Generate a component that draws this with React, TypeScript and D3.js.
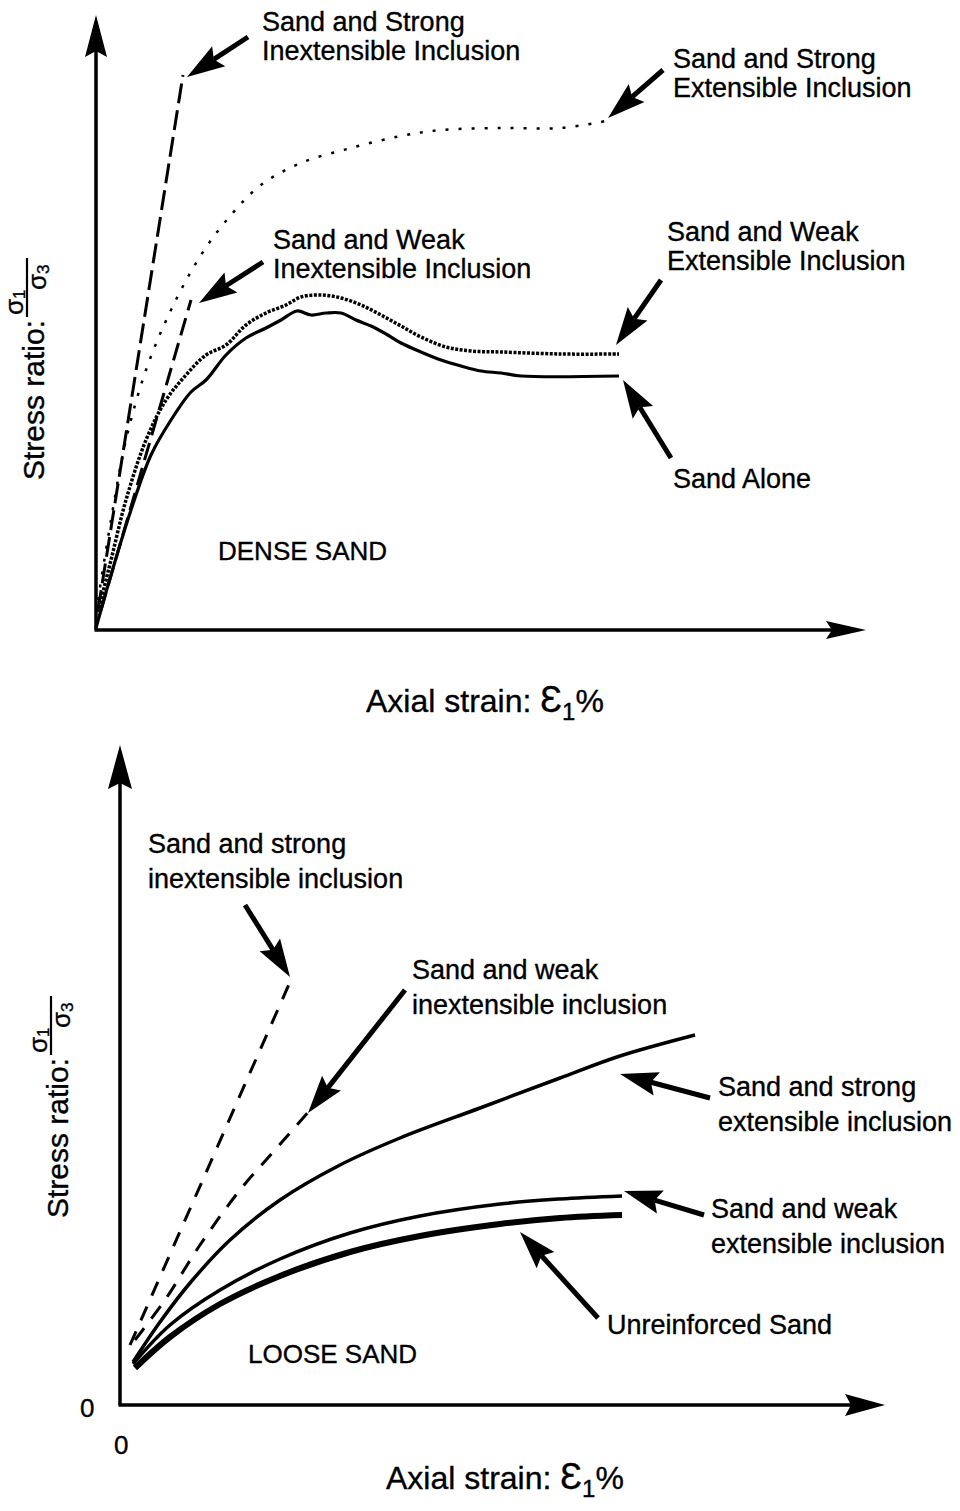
import React from 'react';
import * as d3 from 'd3';

type Pt = [number, number];

// ---------- DENSE SAND (top panel) : axial strain vs stress ratio, arbitrary units ----------
const denseStrongInextensible: Pt[] = [[0.02, 0.2], [0.87, 5.55]];
const denseWeakInextensible: Pt[] = [[0.05, 0.2], [0.95, 3.3]];
const denseStrongExtensible: Pt[] = [
  [0.02, 0.3], [0.15, 1.1], [0.3, 1.9], [0.5, 2.6], [0.75, 3.2], [1.05, 3.75], [1.35, 4.15],
  [1.65, 4.45], [2.05, 4.67], [2.55, 4.82], [3.05, 4.94], [3.45, 5.0], [4.05, 5.02], [4.65, 5.02], [5.1, 5.09],
];
const denseWeakExtensible: Pt[] = [
  [0.02, 0.18], [0.15, 0.7], [0.3, 1.3], [0.5, 1.9], [0.7, 2.3], [0.9, 2.55], [1.1, 2.75], [1.3, 2.85],
  [1.5, 3.05], [1.7, 3.17], [1.9, 3.25], [2.05, 3.33], [2.25, 3.35], [2.45, 3.32], [2.65, 3.25], [2.85, 3.15],
  [3.05, 3.04], [3.25, 2.93], [3.5, 2.83], [3.75, 2.79], [4.05, 2.78], [4.65, 2.76], [5.23, 2.76],
];
const denseSandAlone: Pt[] = [
  [0.0, 0.02], [0.15, 0.55], [0.35, 1.2], [0.55, 1.75], [0.75, 2.1], [0.95, 2.38], [1.1, 2.5], [1.3, 2.75],
  [1.5, 2.92], [1.7, 3.02], [1.85, 3.1], [2.01, 3.19], [2.15, 3.15], [2.3, 3.17], [2.45, 3.17], [2.6, 3.1],
  [2.75, 3.04], [2.9, 2.96], [3.05, 2.87], [3.25, 2.78], [3.45, 2.7], [3.65, 2.64], [3.85, 2.59], [4.05, 2.57],
  [4.25, 2.54], [5.23, 2.54],
];

// ---------- LOOSE SAND (bottom panel) ----------
const looseStrongInextensible: Pt[] = [[0.1, 0.6], [1.7, 4.23]];
const looseWeakInextensible: Pt[] = [[0.15, 0.65], [0.45, 1.05], [0.8, 1.6], [1.2, 2.15], [1.55, 2.55], [1.9, 2.95]];
const looseStrongExtensible: Pt[] = [
  [0.13, 0.43], [0.4, 0.83], [0.7, 1.22], [1.1, 1.65], [1.6, 2.05], [2.2, 2.4], [2.8, 2.67], [3.6, 2.97],
  [4.4, 3.27], [5.0, 3.49], [5.75, 3.7],
];
const looseWeakExtensible: Pt[] = [
  [0.13, 0.41], [0.5, 0.8], [1.0, 1.15], [1.6, 1.46], [2.3, 1.72], [3.0, 1.89], [3.8, 2.01], [4.4, 2.06], [5.02, 2.09],
];
const looseUnreinforced: Pt[] = [
  [0.15, 0.37], [0.5, 0.68], [1.0, 1.01], [1.6, 1.29], [2.3, 1.53], [3.0, 1.69], [3.8, 1.81], [4.4, 1.87], [5.02, 1.9],
];

// annotation texts
const denseLabels: string[][] = [
  ['Sand and Strong', 'Inextensible Inclusion'],
  ['Sand and Strong', 'Extensible Inclusion'],
  ['Sand and Weak', 'Inextensible Inclusion'],
  ['Sand and Weak', 'Extensible Inclusion'],
  ['Sand Alone'],
];
const looseLabels: string[][] = [
  ['Sand and strong', 'inextensible inclusion'],
  ['Sand and weak', 'inextensible inclusion'],
  ['Sand and strong', 'extensible inclusion'],
  ['Sand and weak', 'extensible inclusion'],
  ['Unreinforced Sand'],
];
const axisZero = ['0', '0'];

const FONT = '"Liberation Sans", Arial, Helvetica, sans-serif';
const TXT = { fontFamily: FONT, fill: '#000', stroke: '#000', strokeWidth: 0.35 };

function Arrow({ x1, y1, x2, y2, head = 38, hw = 12, sw = 5 }: any) {
  const dx = x2 - x1, dy = y2 - y1;
  const L = Math.hypot(dx, dy);
  const ux = dx / L, uy = dy / L;
  const px = -uy, py = ux;
  const bx = x2 - ux * head, by = y2 - uy * head;
  const nx = bx + ux * 6, ny = by + uy * 6;
  return (
    <g>
      {sw > 0 && <line x1={x1} y1={y1} x2={nx} y2={ny} stroke="#000" strokeWidth={sw} />}
      <path
        d={`M${x2},${y2}L${bx + px * hw},${by + py * hw}L${nx},${ny}L${bx - px * hw},${by - py * hw}Z`}
        fill="#000"
      />
    </g>
  );
}

function YLabel({ x, y }: { x: number; y: number }) {
  return (
    <g transform={`translate(${x},${y}) rotate(-90)`} {...TXT}>
      <text x={0} y={0} fontSize={30}>Stress ratio:</text>
      <line x1={163} x2={222} y1={-17} y2={-17} stroke="#000" strokeWidth={2.2} />
      <text x={165} y={-21} fontSize={26}>
        σ<tspan fontSize={17} dy={2}>1</tspan>
      </text>
      <text x={190} y={2} fontSize={26}>
        σ<tspan fontSize={17} dy={3}>3</tspan>
      </text>
    </g>
  );
}

function XLabel({ x, y }: { x: number; y: number }) {
  return (
    <text x={x} y={y} fontSize={32} {...TXT}>
      Axial strain:{'\u00a0'}
      <tspan fontSize={36}>Ɛ</tspan>
      <tspan fontSize={24} dy={8}>1</tspan>
      <tspan dy={-8}>%</tspan>
    </text>
  );
}

function MultiLine({ x, y, lines, lh, fs }: any) {
  return (
    <text x={x} y={y} fontSize={fs} {...TXT}>
      {lines.map((l: string, i: number) => (
        <tspan key={i} x={x} dy={i === 0 ? 0 : lh}>{l}</tspan>
      ))}
    </text>
  );
}

export default function App() {
  // top panel scales
  const xT = d3.scaleLinear().domain([0, 7.7]).range([96, 866]);
  const yT = d3.scaleLinear().domain([0, 6.15]).range([630, 15]);
  // bottom panel scales
  const xB = d3.scaleLinear().domain([0, 7.65]).range([120, 885]);
  const yB = d3.scaleLinear().domain([0, 6.6]).range([1405, 745]);

  const lineT = d3.line<Pt>().x(d => xT(d[0])).y(d => yT(d[1])).curve(d3.curveCatmullRom.alpha(0.5));
  const lineB = d3.line<Pt>().x(d => xB(d[0])).y(d => yB(d[1])).curve(d3.curveCatmullRom.alpha(0.5));

  // annotation arrows (data units): [tailX, tailY, tipX, tipY]
  const denseArrows: number[][] = [
    [1.52, 5.93, 0.91, 5.53],
    [5.67, 5.6, 5.12, 5.12],
    [1.67, 3.68, 1.03, 3.27],
    [5.65, 3.5, 5.2, 2.85],
    [5.75, 1.72, 5.27, 2.5],
  ];
  const denseLabelPos: number[][] = [
    [1.66, 5.99], [5.77, 5.62], [1.77, 3.81], [5.71, 3.89], [5.77, 1.42],
  ];
  const looseArrows: number[][] = [
    [1.25, 5.0, 1.7, 4.28],
    [2.85, 4.15, 1.88, 2.92],
    [5.9, 3.07, 5.0, 3.31],
    [5.84, 1.9, 5.04, 2.14],
    [4.78, 0.87, 4.0, 1.73],
  ];
  const looseLabelPos: number[][] = [
    [0.28, 5.52], [2.92, 4.26], [5.98, 3.09], [5.91, 1.87], [4.87, 0.71],
  ];

  return (
    <svg
      width={960}
      height={1511}
      viewBox="0 0 960 1511"
      style={{ position: 'absolute', left: 0, top: 0, background: '#fff' }}
    >
      <rect x={0} y={0} width={960} height={1511} fill="#fff" />

      {/* ================= TOP PANEL ================= */}
      <line x1={xT(0)} y1={yT(0)} x2={xT(0)} y2={yT(6.15) + 30} stroke="#000" strokeWidth={3.5} />
      <Arrow x1={xT(0)} y1={yT(0)} x2={xT(0)} y2={yT(6.15)} head={42} hw={11} sw={0} />
      <line x1={xT(0) - 1.5} y1={yT(0)} x2={xT(7.7) - 30} y2={yT(0)} stroke="#000" strokeWidth={3.5} />
      <Arrow x1={xT(0)} y1={yT(0)} x2={xT(7.7)} y2={yT(0)} head={40} hw={9} sw={0} />

      <path d={lineT(denseStrongInextensible)!} fill="none" stroke="#000" strokeWidth={3} strokeDasharray="20 7" />
      <path d={lineT(denseWeakInextensible)!} fill="none" stroke="#000" strokeWidth={3} strokeDasharray="18 8" />
      <path d={lineT(denseStrongExtensible)!} fill="none" stroke="#000" strokeWidth={2.5} strokeDasharray="3 10" />
      <path d={lineT(denseWeakExtensible)!} fill="none" stroke="#000" strokeWidth={3.5} strokeDasharray="3 1.5" />
      <path d={lineT(denseSandAlone)!} fill="none" stroke="#000" strokeWidth={3.2} />

      {denseArrows.map((a, i) => (
        <Arrow key={i} x1={xT(a[0])} y1={yT(a[1])} x2={xT(a[2])} y2={yT(a[3])} />
      ))}
      {denseLabels.map((l, i) => (
        <MultiLine key={i} x={xT(denseLabelPos[i][0])} y={yT(denseLabelPos[i][1])} lines={l} lh={29} fs={27} />
      ))}
      <text x={xT(1.22)} y={yT(0.7)} fontSize={26} {...TXT}>DENSE SAND</text>

      <XLabel x={366} y={712} />
      <YLabel x={44} y={480} />

      {/* ================= BOTTOM PANEL ================= */}
      <line x1={xB(0)} y1={yB(0)} x2={xB(0)} y2={yB(6.6) + 30} stroke="#000" strokeWidth={3.5} />
      <Arrow x1={xB(0)} y1={yB(0)} x2={xB(0)} y2={yB(6.6)} head={44} hw={12} sw={0} />
      <line x1={xB(0) - 1.5} y1={yB(0)} x2={xB(7.65) - 30} y2={yB(0)} stroke="#000" strokeWidth={3.5} />
      <Arrow x1={xB(0)} y1={yB(0)} x2={xB(7.65)} y2={yB(0)} head={40} hw={11} sw={0} />

      <text x={xB(0) - 40} y={yB(0) + 12} fontSize={26} {...TXT}>{axisZero[0]}</text>
      <text x={xB(0) - 6} y={yB(0) + 49} fontSize={26} {...TXT}>{axisZero[1]}</text>

      <path d={lineB(looseStrongInextensible)!} fill="none" stroke="#000" strokeWidth={3} strokeDasharray="15 12" />
      <path d={lineB(looseWeakInextensible)!} fill="none" stroke="#000" strokeWidth={3} strokeDasharray="15 12" />
      <path d={lineB(looseStrongExtensible)!} fill="none" stroke="#000" strokeWidth={3.5} />
      <path d={lineB(looseWeakExtensible)!} fill="none" stroke="#000" strokeWidth={3.5} />
      <path d={lineB(looseUnreinforced)!} fill="none" stroke="#000" strokeWidth={6} />

      {looseArrows.map((a, i) => (
        <Arrow key={i} x1={xB(a[0])} y1={yB(a[1])} x2={xB(a[2])} y2={yB(a[3])} />
      ))}
      {looseLabels.map((l, i) => (
        <MultiLine key={i} x={xB(looseLabelPos[i][0])} y={yB(looseLabelPos[i][1])} lines={l} lh={35} fs={27} />
      ))}
      <text x={xB(1.28)} y={yB(0.42)} fontSize={26} {...TXT}>LOOSE SAND</text>

      <XLabel x={386} y={1489} />
      <YLabel x={68} y={1218} />
    </svg>
  );
}
